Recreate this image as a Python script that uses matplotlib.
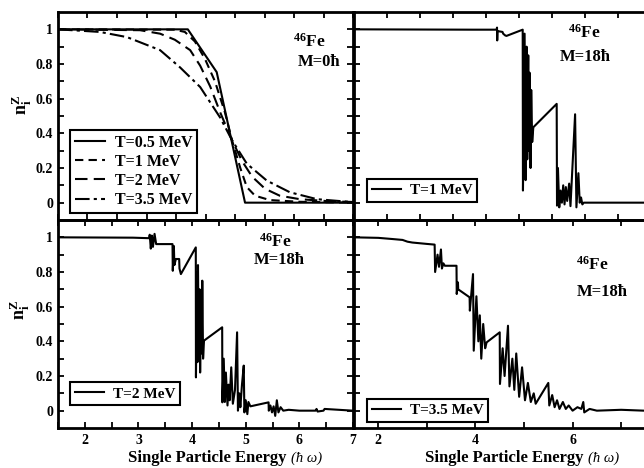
import matplotlib
matplotlib.use("Agg")
import matplotlib.pyplot as plt
from matplotlib.ticker import MultipleLocator, FixedLocator, FixedFormatter, NullFormatter

plt.rcParams['font.family'] = ['Liberation Serif', 'DejaVu Serif']
plt.rcParams['font.weight'] = 'bold'
plt.rcParams['mathtext.fontset'] = 'custom'
plt.rcParams['mathtext.rm'] = 'Liberation Serif:bold'
plt.rcParams['mathtext.bf'] = 'Liberation Serif:bold'
plt.rcParams['mathtext.it'] = 'Liberation Serif:italic'
plt.rcParams['mathtext.sf'] = 'Liberation Serif'

# ---------------- data ----------------
# top-left: M = 0 hbar, four temperatures
tl_T05_x = [1.5, 3.70, 4.19, 4.67, 6.5]
tl_T05_y = [1.0, 1.0, 0.753, 0.0, 0.0]

tl_T1_x = [1.5, 3.48, 3.65, 3.82, 3.99, 4.16, 4.33, 4.45, 4.59, 4.70, 4.84, 5.09, 5.60, 6.5]
tl_T1_y = [1.0, 0.998, 0.985, 0.93, 0.83, 0.70, 0.52, 0.36, 0.20, 0.09, 0.04, 0.015, 0.005, 0.0]

tl_T2_x = [1.5, 2.89, 3.23, 3.48, 3.74, 3.91, 4.08, 4.25, 4.45, 4.62, 4.79, 5.01, 5.26, 5.60, 6.11, 6.5]
tl_T2_y = [1.0, 0.995, 0.975, 0.94, 0.88, 0.79, 0.67, 0.52, 0.36, 0.24, 0.15, 0.08, 0.04, 0.02, 0.008, 0.004]

tl_T35_x = [1.5, 2.21, 2.67, 3.23, 3.57, 3.91, 4.25, 4.45, 4.70, 5.04, 5.43, 5.89, 6.5]
tl_T35_y = [1.0, 0.985, 0.955, 0.88, 0.78, 0.667, 0.49, 0.36, 0.225, 0.127, 0.06, 0.02, 0.003]

# top-right: M = 18 hbar, T = 1 MeV  (energy, occupation)
tr_T1 = [(1.5, 1.0), (3.30, 0.998), (3.66, 0.998), (3.667, 1.01), (3.670, 0.936), (3.675, 0.99),
         (3.75, 0.985), (3.76, 0.975), (3.79, 0.965), (3.81, 0.962), (4.056, 0.998), (4.060, 0.07),
         (4.085, 0.975), (4.100, 0.13), (4.115, 0.90), (4.125, 0.25), (4.140, 0.85), (4.150, 0.30),
         (4.160, 0.75), (4.175, 0.20), (4.185, 0.65), (4.200, 0.35), (4.217, 0.435), (4.571, 0.57),
         (4.576, -0.017), (4.59, 0.20), (4.61, -0.027), (4.63, 0.07), (4.65, 0.0), (4.67, 0.10),
         (4.69, -0.01), (4.71, 0.09), (4.73, 0.01), (4.76, 0.11), (4.78, -0.02), (4.85, 0.51),
         (4.87, -0.027), (4.90, 0.17), (4.92, 0.0), (4.94, 0.03), (4.96, -0.01), (4.98, 0.0),
         (5.894, 0.0)]

# bottom-left: M = 18 hbar, T = 2 MeV
bl_T2 = [(1.5, 1.0), (2.9, 0.998), (3.20, 0.995), (3.21, 1.015), (3.23, 0.935), (3.25, 1.01),
         (3.27, 0.945), (3.30, 1.02), (3.33, 0.961), (3.635, 0.961), (3.64, 0.807), (3.66, 0.95),
         (3.67, 0.84), (3.698, 0.875), (3.759, 0.875), (3.765, 0.82), (3.791, 0.788), (4.069, 0.942),
         (4.072, 0.192), (4.09, 0.80), (4.10, 0.28), (4.11, 0.84), (4.125, 0.30), (4.14, 0.70),
         (4.15, 0.22), (4.165, 0.62), (4.18, 0.33), (4.19, 0.75), (4.205, 0.30), (4.222, 0.404),
         (4.561, 0.481), (4.565, 0.048), (4.59, 0.30), (4.61, 0.05), (4.63, 0.22), (4.66, 0.03),
         (4.68, 0.15), (4.70, 0.06), (4.73, 0.25), (4.76, 0.04), (4.80, 0.12), (4.839, 0.452),
         (4.855, 0.0), (4.88, 0.10), (4.90, 0.02), (4.93, 0.15), (4.963, 0.26), (4.975, -0.01),
         (5.00, 0.06), (5.03, -0.02), (5.05, 0.05), (5.087, 0.025), (5.426, 0.048), (5.43, 0.0),
         (5.46, 0.03), (5.49, -0.01), (5.52, 0.025), (5.55, -0.03), (5.58, 0.06), (5.61, -0.01),
         (5.65, 0.02), (5.70, 0.0), (5.80, 0.005), (6.0, 0.0), (6.30, 0.0), (6.32, 0.01),
         (6.34, -0.005), (6.45, 0.0), (6.47, 0.01), (7.0, 0.0)]

# bottom-right: M = 18 hbar, T = 3.5 MeV
br_T35 = [(1.5, 1.0), (2.0, 0.997), (2.3, 0.99), (2.5, 0.985), (2.6, 0.975), (2.7, 0.97),
          (3.0, 0.962), (3.16, 0.958), (3.17, 0.80), (3.22, 0.90), (3.25, 0.83), (3.29, 0.93),
          (3.31, 0.82), (3.34, 0.85), (3.37, 0.836), (3.61, 0.836), (3.615, 0.673), (3.64, 0.74),
          (3.645, 0.70), (3.88, 0.654), (3.885, 0.577), (3.95, 0.788), (3.965, 0.346), (4.02, 0.66),
          (4.06, 0.40), (4.09, 0.55), (4.12, 0.30), (4.16, 0.50), (4.20, 0.36), (4.23, 0.394),
          (4.50, 0.452), (4.505, 0.154), (4.56, 0.36), (4.60, 0.20), (4.67, 0.49), (4.70, 0.14),
          (4.76, 0.30), (4.80, 0.12), (4.84, 0.33), (4.90, 0.08), (4.96, 0.25), (5.02, 0.06),
          (5.08, 0.16), (5.14, 0.05), (5.20, 0.10), (5.24, 0.04), (5.50, 0.16), (5.52, 0.03),
          (5.58, 0.09), (5.63, 0.02), (5.68, 0.06), (5.73, 0.01), (5.80, 0.05), (5.86, 0.01),
          (5.92, 0.03), (6.00, 0.0), (6.10, 0.02), (6.18, 0.01), (6.22, 0.05), (6.24, -0.01),
          (6.35, 0.01), (6.50, 0.0), (7.0, 0.005), (7.47, 0.0)]

ytick_vals = [0, 0.2, 0.4, 0.6, 0.8, 1.0]
ytick_labels = ['0', '0.2', '0.4', '0.6', '0.8', '1']
tl_labels = ['T=0.5 MeV', 'T=1 MeV', 'T=2 MeV', 'T=3.5 MeV']

# ---------------- figure ----------------
W, H = 644, 468
fig = plt.figure(figsize=(W / 100, H / 100), dpi=100)

def px_ax(x0, y_top, x1, y_bot):
    return fig.add_axes([x0 / W, 1 - y_bot / H, (x1 - x0) / W, (y_bot - y_top) / H])

ax_tl = px_ax(58, 12, 353, 220)
ax_tr = px_ax(354, 12, 644, 220)
ax_bl = px_ax(58, 220, 353, 428)
ax_br = px_ax(354, 220, 644, 428)

LW = 1.5
ax_tl.plot(tl_T05_x, tl_T05_y, color='black', lw=LW, ls='-', label=tl_labels[0])
ax_tl.plot(tl_T1_x, tl_T1_y, color='black', lw=LW, ls=(0, (4, 2.5)), label=tl_labels[1])
ax_tl.plot(tl_T2_x, tl_T2_y, color='black', lw=LW, ls=(0, (6, 3)), label=tl_labels[2])
ax_tl.plot(tl_T35_x, tl_T35_y, color='black', lw=LW, ls=(0, (7, 2, 1.5, 2)), label=tl_labels[3])

x, y = zip(*tr_T1)
ax_tr.plot(x, y, color='black', lw=LW, label='T=1 MeV')
x, y = zip(*bl_T2)
ax_bl.plot(x, y, color='black', lw=LW, label='T=2 MeV')
x, y = zip(*br_T35)
ax_br.plot(x, y, color='black', lw=LW, label='T=3.5 MeV')

ax_tl.set_xlim(1.5, 6.5)
ax_tr.set_xlim(1.5, 5.894)
ax_bl.set_xlim(1.5, 7.0)
ax_br.set_xlim(1.5, 7.47)

for ax in (ax_tl, ax_tr, ax_bl, ax_br):
    ax.set_ylim(-0.1, 1.1)
    ax.yaxis.set_major_locator(FixedLocator(ytick_vals))
    ax.yaxis.set_minor_locator(FixedLocator([0.1, 0.3, 0.5, 0.7, 0.9]))
    for s in ax.spines.values():
        s.set_linewidth(2.0)
    ax.tick_params(which='both', direction='in', top=True, right=True, length=4, width=1.3,
                   labelsize=10)
    ax.patch.set_alpha(0)

for ax in (ax_tl, ax_bl):
    ax.yaxis.set_major_formatter(FixedFormatter(ytick_labels))
for ax in (ax_tr, ax_br):
    ax.yaxis.set_major_formatter(NullFormatter())
    ax.spines['right'].set_visible(False)
    ax.tick_params(which='both', right=False)

ax_tl.xaxis.set_major_locator(MultipleLocator(1))
ax_tl.xaxis.set_minor_locator(MultipleLocator(0.5))
ax_tl.xaxis.set_major_formatter(NullFormatter())
ax_tr.xaxis.set_major_locator(MultipleLocator(0.5))
ax_tr.xaxis.set_major_formatter(NullFormatter())
ax_bl.xaxis.set_major_locator(MultipleLocator(1))
ax_bl.xaxis.set_minor_locator(MultipleLocator(0.5))
ax_br.xaxis.set_major_locator(MultipleLocator(2))
ax_br.xaxis.set_minor_locator(MultipleLocator(1))
ax_bl.tick_params(axis='x', pad=4)
ax_br.tick_params(axis='x', pad=4)

# legends
leg_kw = dict(loc='lower left', frameon=True, fancybox=False, borderaxespad=0,
              borderpad=0.3, handlelength=1.9, handletextpad=0.6)
for ax, anchor, fs, sp in ((ax_tl, (0.041, 0.034), 11.5, 0.2), (ax_tr, (0.045, 0.087), 11, 0.1),
                           (ax_bl, (0.041, 0.11), 11, 0.1), (ax_br, (0.045, 0.029), 11, 0.1)):
    lg = ax.legend(bbox_to_anchor=anchor, fontsize=fs, labelspacing=sp, **leg_kw)
    fr = lg.get_frame()
    fr.set_edgecolor('black')
    fr.set_linewidth(1.5)
    fr.set_alpha(1)

# annotations
ann = [(ax_tl, (0.851, 0.857), (0.885, 0.760), 'M=0ħ'),
       (ax_tr, (0.793, 0.899), (0.797, 0.784), 'M=18ħ'),
       (ax_bl, (0.736, 0.896), (0.749, 0.808), 'M=18ħ'),
       (ax_br, (0.821, 0.784), (0.855, 0.655), 'M=18ħ')]
for ax, p1, p2, mtxt in ann:
    ax.text(p1[0], p1[1], r'$^{46}$Fe', transform=ax.transAxes, ha='center', va='center',
            fontsize=12.5, weight='bold')
    ax.text(p2[0], p2[1], mtxt, transform=ax.transAxes, ha='center', va='center',
            fontsize=12, weight='bold')

# y labels
ax_tl.text(-0.122, 0.553, r'$\mathsf{n}_{\mathsf{i}}^{\mathsf{Z}}$', transform=ax_tl.transAxes,
           rotation=90, ha='center', va='center', fontsize=13)
ax_bl.text(-0.129, 0.567, r'$\mathrm{n}_{\mathrm{i}}^{\mathrm{Z}}$', transform=ax_bl.transAxes,
           rotation=90, ha='center', va='center', fontsize=13)

# x labels (bold main text + italic unit)
fig.canvas.draw()
renderer = fig.canvas.get_renderer()
for cx in (225, 522):
    t1 = fig.text(0, 0, 'Single Particle Energy', fontsize=12, weight='bold',
                  ha='left', va='baseline')
    t2 = fig.text(0, 0, '(ħ ω)', fontsize=10.5, weight='normal', style='italic',
                  ha='left', va='baseline')
    w1 = t1.get_window_extent(renderer).width
    w2 = t2.get_window_extent(renderer).width
    gap = 4
    x0 = cx - (w1 + gap + w2) / 2
    base = H - 462
    t1.set_position((x0 / W, base / H))
    t2.set_position(((x0 + w1 + gap) / W, base / H))

fig.savefig('out.png', dpi=100)
